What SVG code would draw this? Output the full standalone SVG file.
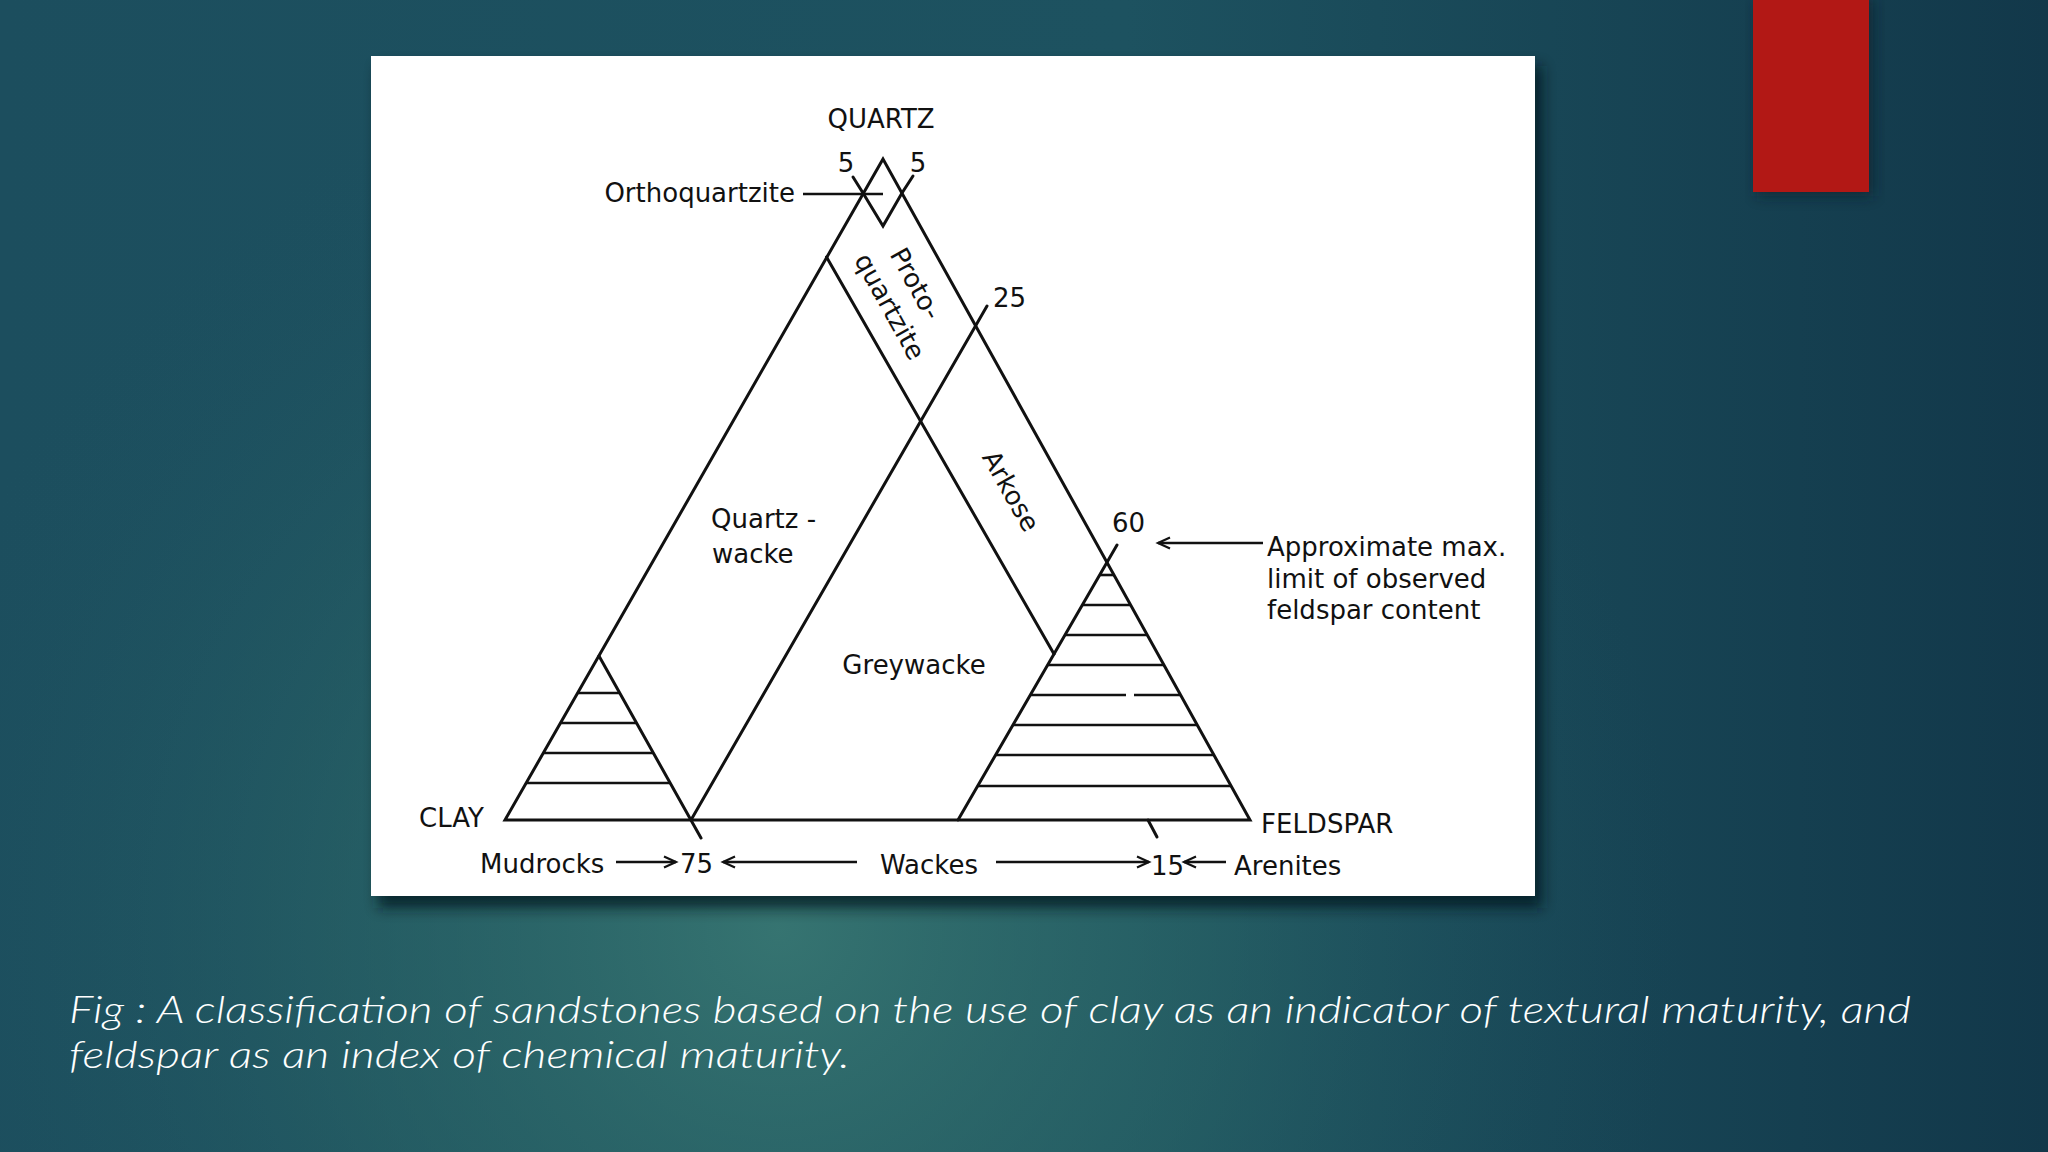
<svg xmlns="http://www.w3.org/2000/svg" width="2048" height="1152" viewBox="0 0 2048 1152">
  <defs>
    <linearGradient id="bgLin" x1="0" y1="0" x2="1" y2="0">
      <stop offset="0" stop-color="#1c4e5e"/>
      <stop offset="0.55" stop-color="#1d5260"/>
      <stop offset="1" stop-color="#12384a"/>
    </linearGradient>
    <radialGradient id="bgGlow" cx="780" cy="930" r="900" gradientUnits="userSpaceOnUse">
      <stop offset="0" stop-color="#3a7a74" stop-opacity="0.85"/>
      <stop offset="0.5" stop-color="#2d6a68" stop-opacity="0.45"/>
      <stop offset="1" stop-color="#1d5260" stop-opacity="0"/>
    </radialGradient>
    <filter id="shadow" x="-10%" y="-10%" width="120%" height="120%">
      <feGaussianBlur stdDeviation="7"/>
    </filter>
    <marker id="arrow" markerWidth="16" markerHeight="14" refX="13" refY="7" orient="auto" markerUnits="userSpaceOnUse">
      <path d="M1,1.5 L13,7 L1,12.5" fill="none" stroke="#111" stroke-width="2.2"/>
    </marker>
    <style>
      .ln { fill: none; stroke: #111; stroke-width: 3; stroke-linecap: round; stroke-linejoin: miter; }
      .hatch { fill: none; stroke: #111; stroke-width: 2.6; }
      .conn { fill: none; stroke: #111; stroke-width: 2.4; }
      .lbl { font-family: "DejaVu Sans", "Liberation Sans", sans-serif; font-size: 26px; fill: #111; }
      .cap { font-family: "Lato", "Open Sans", sans-serif; font-style: italic; font-weight: 300; font-size: 37px; fill: #ffffff; }
    </style>
  </defs>

  <!-- background -->
  <rect x="0" y="0" width="2048" height="1152" fill="url(#bgLin)"/>
  <rect x="0" y="0" width="2048" height="1152" fill="url(#bgGlow)"/>

  <!-- red accent block -->
  <g id="red-block">
    <rect x="1757" y="0" width="116" height="196" fill="#0a1e28" opacity="0.6" filter="url(#shadow)"/>
    <rect x="1753" y="0" width="116" height="192" fill="#b21815"/>
  </g>

  <!-- white panel -->
  <g id="panel">
    <rect x="378" y="66" width="1164" height="842" fill="#06161c" opacity="0.75" filter="url(#shadow)"/>
    <rect x="371" y="56" width="1164" height="840" fill="#ffffff"/>
  </g>

  <!-- diagram lines -->
  <g id="triangle">
    <polygon class="ln" points="883,159 505,820 1250,820"/>
  </g>
  <g id="orthoquartzite-diamond">
    <polyline class="ln" points="853,177 863,193 883,226 902,193 913,176"/>
  </g>
  <g id="boundaries">
    <line class="ln" x1="826.5" y1="257" x2="1054" y2="654"/>
    <line class="ln" x1="1148" y1="820" x2="1157" y2="837"/>
    <line class="ln" x1="987" y1="306" x2="691" y2="820"/>
    <line class="ln" x1="599" y1="656" x2="701" y2="838"/>
    <line class="ln" x1="1117" y1="545" x2="958" y2="820"/>
  </g>
  <g id="mudrock-hatch">
    <line class="hatch" x1="577.6" y1="693" x2="619.8" y2="693"/>
    <line class="hatch" x1="560.5" y1="723" x2="636.6" y2="723"/>
    <line class="hatch" x1="543.3" y1="753" x2="653.4" y2="753"/>
    <line class="hatch" x1="526.2" y1="783" x2="670.2" y2="783"/>
  </g>
  <g id="arenite-hatch">
    <line class="hatch" x1="1099.6" y1="575" x2="1114" y2="575"/>
    <line class="hatch" x1="1082.3" y1="605" x2="1130.7" y2="605"/>
    <line class="hatch" x1="1064.9" y1="635" x2="1147.3" y2="635"/>
    <line class="hatch" x1="1047.6" y1="665" x2="1164" y2="665"/>
    <line class="hatch" x1="1030.3" y1="695" x2="1126" y2="695"/>
    <line class="hatch" x1="1134" y1="695" x2="1180.6" y2="695"/>
    <line class="hatch" x1="1012.9" y1="725" x2="1197.3" y2="725"/>
    <line class="hatch" x1="995.6" y1="755" x2="1213.9" y2="755"/>
    <line class="hatch" x1="977.7" y1="786" x2="1231.1" y2="786"/>
  </g>

  <!-- connectors (pointer lines and arrows) -->
  <g id="connectors">
    <line class="conn" x1="803" y1="194" x2="883" y2="194"/>
    <line class="conn" x1="1263" y1="543" x2="1158" y2="543" marker-end="url(#arrow)"/>
    <line class="conn" x1="616" y1="862" x2="676" y2="862" marker-end="url(#arrow)"/>
    <line class="conn" x1="857" y1="862" x2="723" y2="862" marker-end="url(#arrow)"/>
    <line class="conn" x1="996" y1="862" x2="1149" y2="862" marker-end="url(#arrow)"/>
    <line class="conn" x1="1226" y1="862" x2="1184" y2="862" marker-end="url(#arrow)"/>
  </g>

  <!-- labels -->
  <g id="label-quartz"><text class="lbl" x="881" y="128" text-anchor="middle" font-size="27">QUARTZ</text></g>
  <g id="label-5-left"><text class="lbl" x="846" y="172" text-anchor="middle">5</text></g>
  <g id="label-5-right"><text class="lbl" x="918" y="172" text-anchor="middle">5</text></g>
  <g id="label-orthoquartzite"><text class="lbl" x="795" y="202" text-anchor="end">Orthoquartzite</text></g>
  <g id="label-protoquartzite">
    <text class="lbl" transform="translate(908,288) rotate(61)" x="0" y="0" text-anchor="middle">Proto-</text>
    <text class="lbl" transform="translate(889,307) rotate(61)" x="0" y="8" text-anchor="middle">quartzite</text>
  </g>
  <g id="label-25"><text class="lbl" x="993" y="307">25</text></g>
  <g id="label-quartzwacke">
    <text class="lbl" x="711" y="528">Quartz -</text>
    <text class="lbl" x="712" y="563">wacke</text>
  </g>
  <g id="label-arkose"><text class="lbl" transform="translate(1011,491) rotate(60.5)" x="0" y="9" text-anchor="middle">Arkose</text></g>
  <g id="label-greywacke"><text class="lbl" x="914" y="674" text-anchor="middle" font-size="25">Greywacke</text></g>
  <g id="label-60"><text class="lbl" x="1112" y="532">60</text></g>
  <g id="label-approx">
    <text class="lbl" x="1267" y="556" font-size="25.5">Approximate max.</text>
    <text class="lbl" x="1267" y="588" font-size="25.5">limit of observed</text>
    <text class="lbl" x="1267" y="619" font-size="25.5">feldspar content</text>
  </g>
  <g id="label-clay"><text class="lbl" x="419" y="827">CLAY</text></g>
  <g id="label-feldspar"><text class="lbl" x="1261" y="833">FELDSPAR</text></g>
  <g id="label-mudrocks"><text class="lbl" x="480" y="873">Mudrocks</text></g>
  <g id="label-75"><text class="lbl" x="680" y="873">75</text></g>
  <g id="label-wackes"><text class="lbl" x="880" y="874">Wackes</text></g>
  <g id="label-15"><text class="lbl" x="1151" y="875">15</text></g>
  <g id="label-arenites"><text class="lbl" x="1234" y="875">Arenites</text></g>

  <!-- caption -->
  <g id="caption">
    <text class="cap" x="69" y="1023" textLength="1842" lengthAdjust="spacingAndGlyphs">Fig : A classification of sandstones based on the use of clay as an indicator of textural maturity, and</text>
    <text class="cap" x="69" y="1068" textLength="781" lengthAdjust="spacingAndGlyphs">feldspar as an index of chemical maturity.</text>
  </g>
</svg>
